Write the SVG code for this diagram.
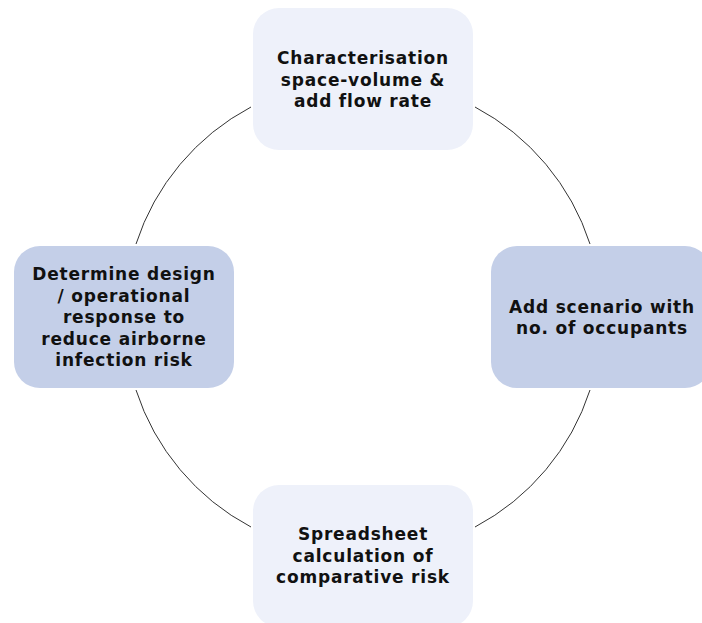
<svg xmlns="http://www.w3.org/2000/svg" width="702" height="623" viewBox="0 0 702 623">
<style>
.light{fill:#EEF1FA;}
.dark{fill:#C4CFE8;}
.lbl{font-family:"DejaVu Sans","Liberation Sans",sans-serif;font-weight:bold;font-size:17px;letter-spacing:0.8px;fill:#111;text-anchor:middle;}
.arc{fill:none;stroke:#333;stroke-width:1;}
</style>
<rect width="702" height="623" fill="#fff"/>
<g id="connectors">
<path class="arc" d="M475,107 A238,238 0 0 1 590,244"/>
<path class="arc" d="M590,390 A238,238 0 0 1 475,527"/>
<path class="arc" d="M251,527 A238,238 0 0 1 136,390"/>
<path class="arc" d="M136,244 A238,238 0 0 1 251,107"/>
</g>
<g id="node-top">
<rect class="light" x="253" y="8" width="220" height="142" rx="26"/>
<text class="lbl" x="363" y="64">Characterisation</text>
<text class="lbl" x="363" y="85.5">space-volume &amp;</text>
<text class="lbl" x="363" y="107">add flow rate</text>
</g>
<g id="node-right">
<rect class="dark" x="491" y="246" width="220" height="142" rx="26"/>
<text class="lbl" x="602" y="312.5">Add scenario with</text>
<text class="lbl" x="602" y="334">no. of occupants</text>
</g>
<g id="node-bottom">
<rect class="light" x="253" y="485" width="220" height="142" rx="26"/>
<text class="lbl" x="363" y="540">Spreadsheet</text>
<text class="lbl" x="363" y="561.5">calculation of</text>
<text class="lbl" x="363" y="583">comparative risk</text>
</g>
<g id="node-left">
<rect class="dark" x="14" y="246" width="220" height="142" rx="26"/>
<text class="lbl" x="124" y="280">Determine design</text>
<text class="lbl" x="124" y="301.5">/ operational</text>
<text class="lbl" x="124" y="323">response to</text>
<text class="lbl" x="124" y="344.5">reduce airborne</text>
<text class="lbl" x="124" y="366">infection risk</text>
</g>
</svg>
